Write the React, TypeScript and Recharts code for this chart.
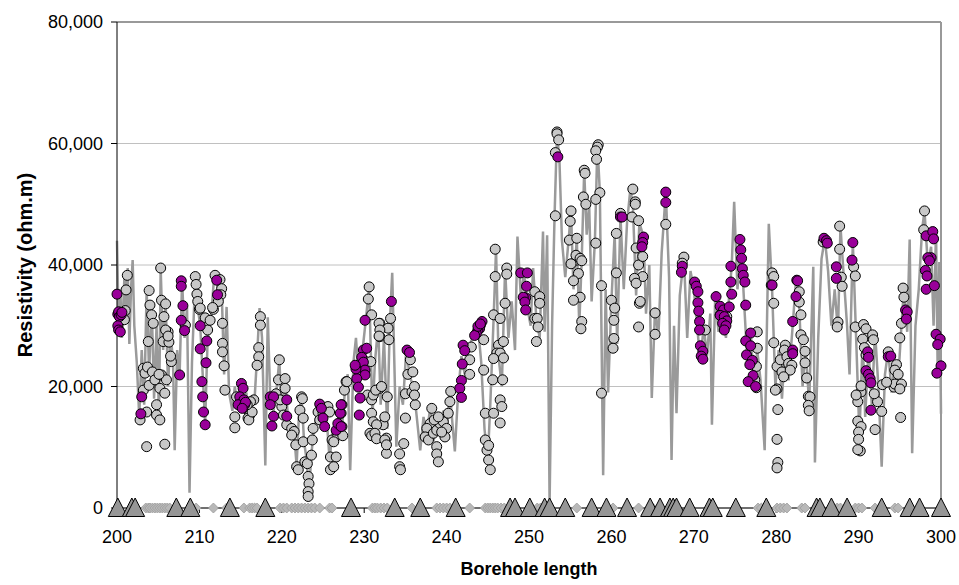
import React from "react";
import { CartesianGrid, ComposedChart, Line, ReferenceLine, Scatter, XAxis, YAxis } from "recharts";

// borehole depth (m) -> resistivity (ohm.m)
const trace: [number, number][] = [
  [200.0, 44000], [200.2, 30000], [200.4, 36000], [200.6, 28000], [200.9, 38000], [201.1, 33000], [201.3, 39500],
  [201.5, 27000], [201.7, 36000], [201.9, 40800], [202.1, 30000], [202.4, 24000], [202.7, 15000], [203.0, 26000],
  [203.3, 17000], [203.6, 36000], [203.9, 22000], [204.2, 34000], [204.5, 18000], [204.8, 30000], [205.1, 15000],
  [205.3, 39500], [205.6, 26000], [205.9, 34000], [206.2, 20000], [206.5, 29000], [206.8, 24000], [207.0, 9500],
  [207.3, 26000], [207.6, 22000], [207.9, 37400], [208.2, 28000], [208.5, 33000], [208.8, 2500], [209.1, 24000],
  [209.5, 38000], [209.8, 33000], [210.1, 30000], [210.4, 22000], [210.7, 14000], [211.0, 28000], [211.4, 31000],
  [211.8, 38300], [212.1, 37500], [212.4, 34000], [212.7, 36000], [213.0, 22000], [213.3, 33100], [213.6, 19000],
  [214.0, 16000], [214.3, 20000], [214.6, 17000], [215.0, 21000], [215.3, 17000], [215.7, 19000], [216.0, 14500],
  [216.4, 17000], [216.7, 18000], [217.0, 25000], [217.3, 32900], [217.6, 28000], [218.0, 7000], [218.3, 31400],
  [218.6, 18000], [219.0, 16000], [219.4, 20000], [219.7, 24400], [220.0, 16000], [220.4, 21300], [220.8, 14000],
  [221.2, 13000], [221.5, 12000], [221.8, 7000], [222.1, 16000], [222.4, 18300], [222.7, 11000], [223.0, 8000],
  [223.3, 2500], [223.6, 9000], [223.9, 13000], [224.2, 15000], [224.6, 17000], [225.0, 13500], [225.4, 15500],
  [225.8, 8000], [226.2, 13000], [226.6, 11000], [227.0, 17000], [227.3, 13000], [227.7, 20000], [228.0, 22000],
  [228.3, 6200], [228.7, 24000], [229.0, 28000], [229.4, 20000], [229.8, 26000], [230.2, 31000], [230.6, 36400],
  [231.0, 15000], [231.3, 24000], [231.7, 30000], [232.0, 17000], [232.4, 28000], [232.8, 13000], [233.1, 30000],
  [233.4, 38700], [233.9, 10100], [234.3, 20000], [234.7, 17000], [235.1, 26000], [235.5, 22000], [235.9, 20000],
  [236.3, 16000], [236.8, 9500], [237.2, 15000], [237.6, 12000], [238.0, 16500], [238.4, 11000], [238.8, 14000],
  [239.2, 12500], [239.6, 16000], [240.0, 13000], [240.4, 19000], [240.7, 14000], [241.0, 9300], [241.4, 19000],
  [241.8, 25000], [242.2, 22000], [242.6, 26000], [243.0, 27500], [243.4, 29000], [243.8, 30000], [244.2, 24000],
  [244.6, 13000], [245.0, 8000], [245.3, 17000], [245.7, 31000], [246.0, 42600], [246.3, 25000], [246.7, 20000],
  [247.1, 39500], [247.5, 28000], [247.9, 34000], [248.3, 26000], [248.6, 44700], [249.0, 35000], [249.4, 38700],
  [249.8, 33000], [250.2, 30000], [250.5, 39500], [250.9, 31000], [251.3, 28000], [251.7, 45500], [251.9, 29000],
  [252.2, 44900], [252.5, 800], [252.8, 30000], [253.1, 48000], [253.4, 61900], [253.7, 57000], [254.0, 44000],
  [254.4, 38000], [254.8, 44000], [255.1, 48900], [255.4, 36000], [255.8, 44400], [256.1, 30000], [256.4, 41000],
  [256.7, 55600], [257.0, 45000], [257.3, 50000], [257.6, 34000], [258.0, 44000], [258.3, 59800], [258.6, 52000],
  [259.0, 5400], [259.3, 36000], [259.6, 19000], [260.0, 34000], [260.4, 45200], [260.7, 27000], [261.1, 48000],
  [261.5, 36000], [261.9, 47000], [262.3, 52500], [262.6, 50000], [263.0, 35000], [263.4, 47000], [263.9, 44600],
  [264.2, 32000], [264.6, 40000], [264.9, 18100], [265.3, 33000], [265.7, 28000], [266.1, 42000], [266.6, 52000],
  [267.0, 38000], [267.3, 7900], [267.6, 30000], [267.9, 15600], [268.3, 35000], [268.8, 41300], [269.2, 28000],
  [269.6, 39000], [270.0, 36000], [270.4, 30000], [270.8, 24000], [271.2, 30000], [271.6, 25000], [272.0, 32000],
  [272.2, 13700], [272.6, 34800], [273.0, 29000], [273.5, 33000], [273.9, 28000], [274.3, 35000], [274.6, 39800],
  [274.9, 50400], [275.3, 36000], [275.7, 44200], [276.1, 34000], [276.5, 24000], [276.9, 29000], [277.3, 20000],
  [277.7, 26000], [278.1, 21000], [278.6, 9500], [279.1, 46800], [279.5, 36000], [279.9, 20000], [280.3, 26000],
  [280.7, 18000], [281.1, 27000], [281.5, 21000], [282.0, 30000], [282.4, 37500], [282.8, 33000], [283.2, 20000],
  [283.6, 26000], [284.0, 17000], [284.5, 39700], [284.7, 7500], [285.1, 28000], [285.5, 41000], [285.9, 44400],
  [286.3, 39000], [286.7, 30000], [287.1, 36000], [287.5, 29000], [287.8, 46400], [288.2, 38000], [288.6, 30000],
  [288.9, 22000], [289.3, 43700], [289.7, 28000], [290.1, 12000], [290.5, 27800], [290.8, 15000], [291.2, 26000],
  [291.6, 17000], [292.0, 29000], [292.4, 20000], [292.8, 6800], [293.2, 22000], [293.6, 26000], [294.0, 19000],
  [294.4, 24000], [294.8, 21000], [295.2, 30000], [295.5, 36200], [295.9, 29000], [296.2, 44200], [296.5, 9000],
  [296.9, 30000], [297.3, 36000], [297.7, 45800], [298.0, 48900], [298.4, 40000], [298.8, 43000], [299.1, 30000],
  [299.4, 45500], [299.6, 22000], [299.8, 40500], [300.0, 15500],
];

const greyDots: [number, number][] = [
  [201.1, 35900], [201.25, 38300], [201.0, 32500], [200.9, 31000],
  [203.9, 35800], [204.0, 33400], [204.2, 31800], [204.4, 30400], [203.8, 27400], [203.2, 23000], [203.4, 22200],
  [203.2, 19400], [202.8, 14500], [203.6, 15800], [203.6, 10100], [203.7, 23200], [203.9, 20200], [204.3, 22400],
  [204.6, 21100], [204.8, 17000], [204.8, 15300], [205.2, 14500], [205.4, 21900], [205.2, 19700], [205.8, 18900],
  [206.0, 21100], [205.8, 10500], [205.6, 27400], [206.2, 29000], [206.3, 27300], [206.6, 24100], [206.5, 25000],
  [205.3, 39500], [205.4, 34200], [205.9, 33600], [205.7, 31500], [205.9, 29300], [206.2, 28300], [205.1, 22000],
  [208.3, 30100], [209.5, 38100], [209.6, 36800], [209.7, 35200], [209.8, 34000], [210.0, 32700], [210.1, 32900],
  [210.7, 31300], [211.0, 29300], [211.3, 30900], [211.7, 32700], [211.9, 38300], [212.5, 37600], [212.7, 36100],
  [212.6, 35100], [212.3, 34000], [211.6, 33000],
  [212.8, 30400], [212.8, 27100], [212.8, 25700], [213.0, 23400], [213.1, 19400],
  [214.3, 15000], [214.3, 13200], [214.5, 18300], [215.9, 16100], [216.1, 15300], [215.9, 14800], [216.0, 14500],
  [216.6, 17800], [216.4, 15800], [216.2, 17500], [215.8, 17000],
  [217.4, 31500], [217.4, 30100], [217.2, 26400], [217.2, 24900], [217.0, 23500],
  [219.7, 24400], [219.6, 21100], [220.4, 21300], [220.4, 19700], [220.0, 16700], [220.2, 15300], [220.6, 13700],
  [221.2, 13100], [221.5, 12600], [221.2, 12000], [219.3, 18800], [219.8, 17800],
  [221.7, 10400], [221.8, 6800], [222.0, 6300], [222.2, 16100], [222.4, 18300], [222.5, 18000], [222.6, 14800],
  [222.6, 10900], [222.8, 7600], [223.1, 7300], [223.2, 5200], [223.3, 4000], [223.2, 2700], [223.2, 1900],
  [223.6, 8700], [223.7, 11200], [223.8, 13100],
  [224.4, 15800], [224.6, 14500], [225.0, 15600], [225.6, 16700], [225.8, 15800], [225.9, 8400], [225.9, 6300],
  [226.1, 11200], [226.6, 8400], [226.8, 12000], [226.3, 10900], [226.3, 6800], [227.3, 17000], [227.2, 15600],
  [227.3, 13400], [227.4, 11900], [227.6, 19400], [227.8, 20800], [227.9, 20800],
  [230.2, 24100], [230.4, 18600], [230.9, 17800], [230.7, 12300], [230.9, 11900], [232.3, 13700], [232.5, 15000],
  [232.7, 11500], [232.7, 9000], [231.9, 19700], [232.8, 18300], [230.9, 31800], [231.9, 30400], [231.9, 28200],
  [232.9, 29600], [233.0, 27700], [230.6, 36400], [230.5, 34400], [231.8, 30400], [231.9, 29300], [231.8, 28300],
  [233.2, 31200], [230.8, 24100], [231.1, 18600], [231.4, 19400], [232.1, 20000], [230.9, 15600], [231.1, 14200],
  [231.5, 13700], [231.3, 12300], [231.5, 11400], [232.5, 11200], [232.7, 10400],
  [235.0, 18800], [235.8, 19100], [236.1, 20000], [236.2, 17000], [235.0, 14800], [234.8, 10600], [234.3, 8900],
  [234.3, 6800], [234.4, 6300], [235.6, 24400], [235.3, 22000], [235.9, 22400], [236.1, 18600],
  [238.2, 16400], [238.0, 13900], [237.6, 13100], [237.4, 11700], [237.8, 11200], [238.4, 12300], [238.8, 12800],
  [239.2, 13900], [239.6, 14200], [240.0, 13100], [239.8, 11700], [240.2, 15600], [240.4, 17500], [240.5, 19200],
  [238.8, 10100], [238.8, 8900], [239.0, 7600], [238.5, 14500], [239.0, 15000], [239.4, 12500],
  [242.8, 24400], [242.8, 22000], [243.0, 26500], [244.5, 27700], [244.5, 22700],
  [244.7, 15600], [245.7, 15600], [244.7, 11200], [244.9, 9500], [245.1, 10300], [245.1, 7900], [245.3, 6300],
  [246.5, 17800], [246.7, 16700], [246.5, 14000],
  [245.7, 31800], [246.5, 31200], [247.1, 33700], [246.3, 26800], [246.1, 25500], [246.5, 25500], [246.9, 27400],
  [245.7, 24600], [246.9, 24700], [245.6, 21100], [246.8, 21100],
  [245.9, 42600], [245.9, 38100], [247.3, 39500], [247.3, 38500],
  [250.7, 35600], [251.3, 34800], [251.3, 33700], [250.7, 31200], [251.0, 31200], [251.1, 29800], [250.9, 27400],
  [253.4, 61900], [253.4, 61600], [253.6, 60600], [253.2, 58500], [253.2, 48100],
  [255.1, 48900], [255.0, 47200], [254.9, 44100], [255.8, 44400], [255.8, 40800], [255.1, 40200], [255.7, 41600],
  [256.2, 41100], [256.4, 40700], [256.0, 38600], [255.4, 37400], [256.2, 34700], [255.4, 34200], [256.4, 30700],
  [256.3, 29500],
  [256.7, 55600], [256.8, 55100], [256.6, 51200], [256.9, 50000],
  [258.4, 59800], [258.3, 59400], [258.1, 58800], [258.2, 57400], [258.6, 51900], [258.1, 50800], [258.1, 43600],
  [258.8, 36600], [258.8, 18900],
  [260.0, 34200], [260.4, 32900], [260.3, 30900], [260.3, 27900], [260.2, 26300], [260.6, 45200], [260.6, 38700],
  [261.1, 48500], [262.6, 52500], [262.9, 50400], [262.9, 50000], [262.5, 47900], [263.3, 47300], [263.0, 42800],
  [263.3, 40000], [263.8, 41400], [263.8, 38100], [262.8, 37800], [263.0, 37000], [263.4, 33700], [263.5, 34000],
  [263.3, 29800], [265.3, 32100], [265.3, 28600],
  [266.6, 46700], [268.8, 41300], [268.6, 40300], [271.4, 29300], [273.2, 31800], [274.0, 31500],
  [277.7, 29000], [277.7, 26300], [277.6, 23300], [277.4, 21100], [277.6, 19800],
  [279.5, 38700], [279.7, 38100], [279.4, 36700], [279.7, 33700], [279.7, 27200],
  [280.1, 23300], [280.5, 24400], [280.7, 22400], [281.1, 26800], [281.0, 26000], [281.3, 24900], [281.5, 23800],
  [281.9, 23500], [281.7, 22700], [280.9, 21600], [280.1, 19600],
  [279.9, 19400], [280.2, 16200], [280.1, 11300], [280.2, 7500], [280.1, 6600],
  [282.8, 35600], [282.8, 33900], [283.0, 31800], [283.0, 28500], [283.3, 27700], [283.5, 25800], [283.5, 23900],
  [283.7, 21400], [283.9, 18400], [284.1, 18300], [283.9, 16900], [284.0, 16000],
  [285.7, 43800], [287.7, 46400], [287.7, 42600], [287.9, 38000], [288.0, 36500], [289.4, 39700], [289.6, 38200],
  [287.5, 30600], [287.4, 29800],
  [289.6, 29800], [290.6, 30200], [290.9, 29500], [290.5, 27800], [290.7, 26400], [290.9, 25200], [291.7, 28500],
  [291.8, 27700], [290.3, 19100], [289.9, 17500], [292.3, 17500],
  [289.7, 18600], [290.3, 20100], [291.9, 18800], [289.9, 14300], [290.3, 13400], [290.0, 12500], [290.0, 11300],
  [290.2, 9400], [289.9, 9600], [292.8, 15900], [292.0, 12900], [292.9, 20300], [294.3, 19900], [294.4, 20400],
  [295.1, 14900],
  [293.6, 25700], [294.6, 23600], [294.4, 22700], [294.8, 22000], [295.2, 20400], [295.0, 19600], [293.4, 20700],
  [295.4, 36200], [295.5, 34700], [295.2, 30400], [295.0, 28000],
  [298.0, 48900], [297.9, 45800],
];

const purpleDots: [number, number][] = [
  [200.0, 35200], [200.1, 31900], [200.2, 32300], [200.3, 31500], [200.1, 30000], [200.2, 29300], [200.4, 29000],
  [200.5, 31800], [200.6, 32200],
  [203.0, 18300], [202.9, 15500],
  [207.8, 37400], [207.8, 36500], [208.0, 33300], [207.8, 30900], [208.2, 29200], [207.6, 21900],
  [210.1, 30000], [210.1, 26200], [210.9, 27500], [210.8, 23900], [210.3, 20800], [210.4, 18300], [210.5, 15800],
  [210.7, 13700], [212.1, 37500], [212.2, 35100],
  [215.1, 20500], [215.3, 19700], [214.9, 18300], [215.4, 17800], [214.7, 17000], [215.5, 17000], [215.6, 17400],
  [215.2, 16400],
  [218.6, 18300], [219.0, 18300], [218.6, 17000], [219.0, 15100], [218.8, 13500], [220.6, 17800], [220.6, 15100],
  [224.6, 17100], [224.8, 16400], [225.0, 14800], [225.2, 13400], [226.6, 12800], [226.8, 13900], [227.1, 15600],
  [227.2, 17000], [227.2, 13400],
  [229.9, 26000], [230.3, 26300], [229.7, 24800], [229.9, 24000], [230.1, 22700], [230.1, 21900], [229.1, 21300],
  [229.3, 19900], [229.5, 18100], [229.0, 22900], [228.9, 23500], [229.4, 15300], [230.1, 30900], [233.3, 34000],
  [235.2, 26000], [235.5, 25600],
  [242.0, 26800], [242.2, 25900], [241.9, 23700], [241.8, 21000], [241.6, 19700], [241.8, 18200],
  [244.3, 30700], [244.1, 30100], [244.0, 29500], [243.8, 29300], [243.6, 28700], [243.4, 28400], [243.8, 29900],
  [244.1, 30300],
  [249.0, 38700], [249.8, 38700], [249.7, 36500], [249.6, 34600], [249.3, 34700], [249.5, 33900], [249.6, 32600],
  [253.5, 57800],
  [261.1, 47900], [261.3, 47900],
  [263.9, 44600], [263.8, 43700], [263.7, 43000],
  [266.6, 52000], [266.6, 50300],
  [268.6, 39800], [268.5, 38800],
  [270.1, 37200], [270.3, 36500], [270.5, 35600], [270.5, 33800], [270.6, 32400], [270.7, 30700], [270.7, 29300],
  [270.8, 26700], [271.1, 25800], [270.9, 25000], [271.1, 24500],
  [272.7, 34800], [273.2, 33200], [273.6, 32600], [273.2, 31700], [273.7, 31500], [274.0, 30800], [273.5, 30400],
  [273.9, 30000], [273.7, 29300],
  [274.5, 39800], [274.5, 37200], [274.6, 35200], [274.3, 33100],
  [275.6, 44200], [275.7, 42500], [275.8, 41100], [275.9, 39400], [276.0, 38300], [276.2, 37200], [276.3, 33400],
  [276.9, 28800], [276.3, 27500], [276.4, 25200], [276.9, 26700], [277.1, 24300], [276.8, 23600], [277.2, 21800],
  [276.6, 20800], [277.5, 20000],
  [279.5, 36700], [282.0, 26000], [282.0, 25400], [282.0, 30700], [282.5, 37500], [282.6, 37400], [282.4, 34800],
  [285.8, 44400], [286.1, 44000], [286.2, 43600],
  [287.3, 39700], [287.3, 37800],
  [289.3, 43700], [289.2, 40800],
  [291.1, 25700], [291.2, 24800], [290.9, 22600], [291.2, 22000], [291.4, 21300], [291.5, 16100], [291.5, 20600],
  [293.6, 24900], [293.9, 25000],
  [295.7, 32600], [295.9, 32300], [295.8, 31100],
  [298.2, 44800], [299.0, 45500], [299.1, 44300], [298.8, 41200], [298.4, 41200], [298.6, 40700], [298.1, 39100],
  [298.3, 38200], [298.2, 36000], [299.2, 36600],
  [299.4, 28600], [299.9, 27800], [299.6, 26900], [300.0, 23400], [299.5, 22200],
];

const diamondDepths = [
  203.5, 203.8, 204.0, 204.3, 204.6, 204.9, 205.2, 205.5, 205.8, 206.1, 206.4, 209.6, 211.7, 213.3, 215.4,
  216.1, 216.4, 216.7, 217.0, 219.8, 220.2, 220.6, 221.2, 221.6, 222.0, 222.4, 222.8, 223.2, 223.6, 224.0,
  224.6, 225.8, 226.1, 231.0, 231.3, 231.6, 232.0, 232.4, 232.8, 235.8, 238.8, 239.2, 239.6, 240.0, 240.4,
  242.8, 244.7, 245.0, 245.3, 245.6, 245.9, 246.2, 246.6, 247.0, 251.0, 251.4, 251.8, 252.2, 255.8, 260.2,
  263.3, 265.0, 277.8, 278.2, 280.1, 280.5, 280.9, 281.3, 283.1, 283.5, 287.4, 287.8, 289.6, 290.0, 290.4,
  292.0, 294.4, 294.8,
];

const triangleDepths = [
  200.1, 201.8, 202.2, 207.2, 208.9, 213.7, 218.0, 228.4, 233.7, 236.8, 241.1, 247.7, 248.3, 250.1, 251.9,
  252.5, 254.4, 257.6, 259.4, 261.9, 264.7, 265.9, 267.1, 267.5, 267.9, 269.5, 271.9, 272.3, 275.1, 278.8,
  284.9, 285.3, 286.7, 288.6, 292.8, 296.2, 297.4, 300.0,
];

const xTicks = [200, 210, 220, 230, 240, 250, 260, 270, 280, 290, 300];
const yTicks = [0, 20000, 40000, 60000, 80000];

const toRows = (pts: [number, number][]) => pts.map(([d, v]) => ({ d, v }));
const traceRows = toRows(trace);
const greyRows = toRows(greyDots);
const purpleRows = toRows(purpleDots);
const diamondRows = diamondDepths.map((d) => ({ d, v: 0 }));
const triangleRows = triangleDepths.map((d) => ({ d, v: 0 }));

const FONT = '"Liberation Sans", Arial, sans-serif';

const GreyDot = (p: any) => <circle cx={p.cx} cy={p.cy} r={5} fill="#c8c8c8" stroke="#000" strokeWidth={1} />;
const PurpleDot = (p: any) => <circle cx={p.cx} cy={p.cy} r={5} fill="#990099" stroke="#000" strokeWidth={1} />;
const Diamond = (p: any) => (
  <polygon
    points={`${p.cx},${p.cy - 5} ${p.cx + 5},${p.cy} ${p.cx},${p.cy + 5} ${p.cx - 5},${p.cy}`}
    fill="#b8b8b8"
    stroke="#9c9c9c"
    strokeWidth={0.8}
  />
);
const Triangle = (p: any) => (
  <polygon
    points={`${p.cx},${p.cy - 10} ${p.cx + 9.5},${p.cy + 8.5} ${p.cx - 9.5},${p.cy + 8.5}`}
    fill="#969696"
    stroke="#000"
    strokeWidth={1}
  />
);

export default function App() {
  return (
    <div style={{ position: "absolute", left: 0, top: 0, background: "#fff" }}>
      <ComposedChart width={959} height={585} margin={{ top: 22, right: 18, bottom: 0, left: 0 }}>
        <CartesianGrid horizontal vertical={false} stroke="#c0c0c0" />
        <ReferenceLine y={80000} stroke="#999" strokeWidth={2} />
        <ReferenceLine x={300} stroke="#999" strokeWidth={2} />
        <XAxis
          type="number"
          dataKey="d"
          domain={[200, 300]}
          ticks={xTicks}
          interval={0}
          height={77}
          tickSize={5}
          tickMargin={17}
          axisLine={{ stroke: "#000" }}
          tickLine={{ stroke: "#000" }}
          tick={{ fontFamily: FONT, fontSize: 18, fill: "#000" }}
          label={{
            value: "Borehole length",
            position: "insideBottom",
            offset: 10,
            style: { fontFamily: FONT, fontSize: 18, fontWeight: "bold", fill: "#000" },
          }}
        />
        <YAxis
          type="number"
          dataKey="v"
          domain={[0, 80000]}
          ticks={yTicks}
          interval={0}
          width={117}
          tickSize={6}
          tickMargin={8}
          axisLine={{ stroke: "#000" }}
          tickLine={{ stroke: "#000" }}
          tickFormatter={(v: number) => v.toLocaleString("en-US")}
          tick={{ fontFamily: FONT, fontSize: 18, fill: "#000" }}
          label={{
            value: "Resistivity (ohm.m)",
            angle: -90,
            position: "insideLeft",
            offset: 25,
            style: { fontFamily: FONT, fontSize: 20, fontWeight: "bold", fill: "#000", textAnchor: "middle" },
          }}
        />
        <Line
          data={traceRows}
          dataKey="v"
          type="linear"
          stroke="#9a9a9a"
          strokeWidth={2.5}
          dot={false}
          activeDot={false}
          isAnimationActive={false}
        />
        <Scatter data={greyRows} shape={GreyDot} isAnimationActive={false} />
        <Scatter data={purpleRows} shape={PurpleDot} isAnimationActive={false} />
        <Scatter data={diamondRows} shape={Diamond} isAnimationActive={false} />
        <Scatter data={triangleRows} shape={Triangle} isAnimationActive={false} />
      </ComposedChart>
    </div>
  );
}
